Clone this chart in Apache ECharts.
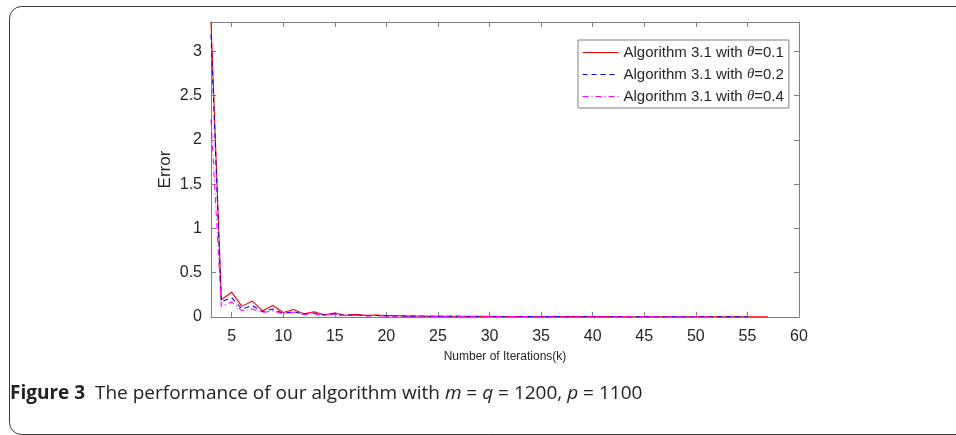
<!DOCTYPE html>
<html>
<head>
<meta charset="utf-8">
<script src="https://cdn.jsdelivr.net/npm/echarts@6/dist/echarts.min.js"></script>
<style>
html,body{margin:0;padding:0;background:#fff;}
#c{width:956px;height:435px;}
</style>
</head>
<body>
<div id="c"></div>
<script>
// ---- data ----
var firstIteration = 3;
var seriesNames = ['Algorithm 3.1 with θ=0.1', 'Algorithm 3.1 with θ=0.2', 'Algorithm 3.1 with θ=0.4'];
var errTheta01 = [3.33, 0.195, 0.28, 0.12, 0.18, 0.07, 0.13, 0.05, 0.085, 0.035, 0.06, 0.025, 0.045, 0.02, 0.03, 0.018, 0.022, 0.015, 0.016, 0.012, 0.012, 0.010, 0.009, 0.009, 0.008, 0.008, 0.007, 0.007, 0.006, 0.006, 0.006, 0.005, 0.005, 0.005, 0.005, 0.004, 0.004, 0.004, 0.004, 0.004, 0.003, 0.003, 0.003, 0.003, 0.003, 0.003, 0.003, 0.002, 0.002, 0.002, 0.002, 0.002, 0.002, 0.002, 0.002];
var errTheta02 = [3.19, 0.17, 0.22, 0.09, 0.13, 0.06, 0.09, 0.04, 0.06, 0.03, 0.045, 0.02, 0.035, 0.016, 0.024, 0.014, 0.017, 0.012, 0.012, 0.010, 0.009, 0.008, 0.008, 0.007, 0.007, 0.006, 0.006, 0.006, 0.005, 0.005, 0.005, 0.004, 0.004, 0.004, 0.004, 0.003, 0.003, 0.003, 0.003, 0.003, 0.003, 0.003, 0.002, 0.002, 0.002, 0.002, 0.002, 0.002, 0.002, 0.002, 0.002, 0.002, 0.002];
var errTheta04 = [2.23, 0.12, 0.17, 0.07, 0.09, 0.05, 0.07, 0.035, 0.05, 0.028, 0.035, 0.02, 0.03, 0.014, 0.02, 0.012, 0.014, 0.010, 0.010, 0.008, 0.008, 0.007, 0.007, 0.006, 0.006, 0.005, 0.005, 0.005, 0.004, 0.004, 0.004, 0.004, 0.003, 0.003, 0.003, 0.003, 0.003, 0.003, 0.002, 0.002, 0.002, 0.002, 0.002, 0.002, 0.002, 0.002, 0.002, 0.002, 0.002, 0.002];
var xTicks = [5, 10, 15, 20, 25, 30, 35, 40, 45, 50, 55, 60];
var yTicks = [0, 0.5, 1, 1.5, 2, 2.5, 3];
var xRange = [3, 60];
var yRange = [0, 3.33];
var xAxisTitle = 'Number of Iterations(k)';
var yAxisTitle = 'Error';
var captionBold = 'Figure 3';
var captionRest = 'The performance of our algorithm with ';

function toPairs(vals) {
  return vals.map(function (v, i) { return [firstIteration + i, v]; });
}

var axisGray = '#808080';
var labelColor = '#262626';
var font = '"Liberation Sans", Arial, sans-serif';
var capFont = '"Open Sans", "Noto Sans", sans-serif';

function xAx(pos, showLabels) {
  return {
    type: 'value', position: pos, min: xRange[0], max: xRange[1],
    name: showLabels ? xAxisTitle : '', nameLocation: 'middle', nameGap: 34,
    nameMoveOverlap: false,
    nameTextStyle: {fontFamily: font, fontSize: 12, color: labelColor},
    axisLine: {show: true, onZero: false, lineStyle: {color: axisGray, width: 1}},
    axisTick: {show: true, inside: true, length: 5, customValues: xTicks, lineStyle: {color: axisGray}},
    axisLabel: {show: showLabels, customValues: xTicks, margin: 12, fontFamily: font, fontSize: 16, color: labelColor},
    splitLine: {show: false}
  };
}
function yAx(pos, showLabels) {
  return {
    type: 'value', position: pos, min: yRange[0], max: yRange[1],
    name: showLabels ? yAxisTitle : '', nameLocation: 'middle', nameGap: 37, nameRotate: 90,
    nameMoveOverlap: false,
    nameTextStyle: {fontFamily: font, fontSize: 17, color: labelColor},
    axisLine: {show: true, onZero: false, lineStyle: {color: axisGray, width: 1}},
    axisTick: {show: true, inside: true, length: 5, customValues: yTicks, lineStyle: {color: axisGray}},
    axisLabel: {show: showLabels, customValues: yTicks, margin: 9, fontFamily: font, fontSize: 16, color: labelColor},
    splitLine: {show: false}
  };
}

var chart = echarts.init(document.getElementById('c'), null, {renderer: 'canvas'});
chart.setOption({
  animation: false,
  backgroundColor: '#fff',
  grid: {left: 211, top: 22, width: 588, height: 295, containLabel: false},
  xAxis: [xAx('bottom', true), xAx('top', false)],
  yAxis: [yAx('left', true), yAx('right', false)],
  legend: {
    orient: 'vertical', left: 578, top: 40,
    backgroundColor: '#fff', borderColor: '#808080', borderWidth: 1,
    padding: [5, 5, 4, 4], itemGap: 7, itemWidth: 36, itemHeight: 14,
    itemStyle: {opacity: 0},
    lineStyle: {width: 1},
    textStyle: {
      fontFamily: font, fontSize: 15, color: labelColor,
      rich: {i: {fontFamily: '"Liberation Serif", serif', fontStyle: 'italic', fontSize: 15, color: labelColor}}
    },
    formatter: function (n) { return n.replace('θ', '{i|θ}'); },
    data: seriesNames
  },
  series: [
    {name: seriesNames[0], type: 'line', data: toPairs(errTheta01), symbol: 'none', showSymbol: false, z: 3,
     lineStyle: {color: '#ff0000', width: 1.1, type: 'solid'}, itemStyle: {color: '#ff0000'}},
    {name: seriesNames[1], type: 'line', data: toPairs(errTheta02), symbol: 'none', showSymbol: false, z: 4,
     lineStyle: {color: '#0000ff', width: 1.1, type: [5, 4]}, itemStyle: {color: '#0000ff'}},
    {name: seriesNames[2], type: 'line', data: toPairs(errTheta04), symbol: 'none', showSymbol: false, z: 5,
     lineStyle: {color: '#ff00ff', width: 1.1, type: [6, 3, 1, 3]}, itemStyle: {color: '#ff00ff'}}
  ],
  graphic: [
    {type: 'rect', left: 7, top: 4, silent: true, z: -1,
     shape: {x: 0.5, y: 0.5, width: 1000, height: 428, r: 12},
     style: {fill: 'none', stroke: '#3a3a3a', lineWidth: 1}},
    {type: 'text', left: 10, top: 384,
     style: {
       text: '{b|' + captionBold + '}{n|  ' + captionRest + '}{it|m}{n| = }{it|q}{n| = 1200, }{it|p}{n| = 1100}',
       rich: {
         b: {fontFamily: capFont, fontWeight: 'bold', fontSize: 19, fill: '#222'},
         n: {fontFamily: capFont, fontSize: 19, fill: '#222'},
         it: {fontFamily: capFont, fontStyle: 'italic', fontSize: 19, fill: '#222'}
       }
     }}
  ]
});
</script>
</body>
</html>
